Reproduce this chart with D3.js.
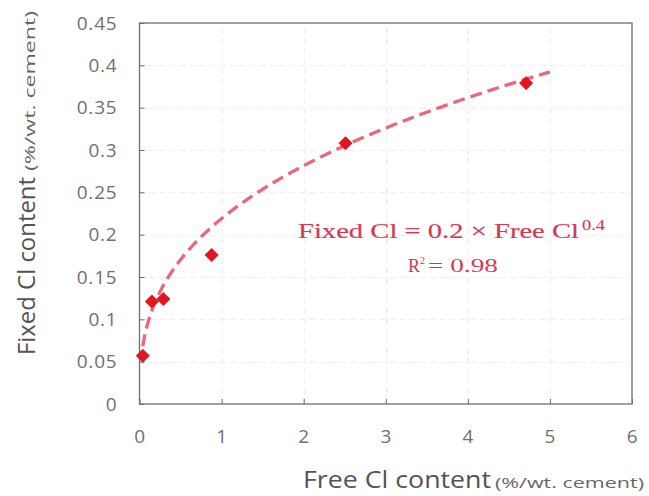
<!DOCTYPE html>
<html>
<head>
<meta charset="utf-8">
<script src="https://cdn.jsdelivr.net/npm/d3@7"></script>
<style>
  html, body { margin: 0; padding: 0; background: #fff; }
  svg { display: block; }
</style>
</head>
<body>
<svg id="chart" width="649" height="496"></svg>
<script>
// Measured chloride binding: free vs fixed chloride (% by weight of cement)
const freeCl  = [0.04, 0.15, 0.29, 0.88, 2.51, 4.71];
const fixedCl = [0.057, 0.121, 0.124, 0.176, 0.308, 0.379];

// Power-law trendline: fixed = coef * free ^ exponent
const trendCoef = [0.219, 0.362];
const trendRange = [0.04, 5];
const rSquared = [0.98];

// Axis ticks
const xTicks = [0, 1, 2, 3, 4, 5, 6];
const yTicks = [0, 0.05, 0.1, 0.15, 0.2, 0.25, 0.3, 0.35, 0.4, 0.45];

const svg = d3.select("#chart");
const margin = { left: 139.5, right: 17, top: 23, bottom: 92 };
const W = 649, H = 496;

const x = d3.scaleLinear().domain([0, 6]).range([margin.left, W - margin.right]);
const y = d3.scaleLinear().domain([0, 0.45]).range([H - margin.bottom, margin.top]);

const tickColor = "#6a6a6a";
const labelFont = "'Open Sans', 'Noto Sans', sans-serif";

// faint gridlines
const grid = svg.append("g").attr("stroke", "#efefef").attr("stroke-width", 1)
  .attr("stroke-dasharray", "6,4");
grid.selectAll("line.h").data(yTicks.slice(1, -1)).join("line")
  .attr("x1", x(0)).attr("x2", x(6))
  .attr("y1", d => Math.round(y(d)) + 0.5).attr("y2", d => Math.round(y(d)) + 0.5);
grid.selectAll("line.v").data(xTicks.slice(1, -1)).join("line")
  .attr("y1", y(0)).attr("y2", y(0.45))
  .attr("x1", d => Math.round(x(d)) + 0.5).attr("x2", d => Math.round(x(d)) + 0.5);

// axes with inward ticks
const xAxis = d3.axisBottom(x).tickValues(xTicks).tickSize(-5).tickPadding(26)
  .tickFormat(d3.format("d"));
const yAxis = d3.axisLeft(y).tickValues(yTicks).tickSize(-5).tickPadding(22)
  .tickFormat(d => d === 0 ? "0" : String(+d.toFixed(2)));

const gx = svg.append("g").attr("transform", `translate(0,${y(0)})`).call(xAxis);
const gy = svg.append("g").attr("transform", `translate(${x(0)},0)`).call(yAxis);
[gx, gy].forEach(g => {
  g.select(".domain").remove();
  g.selectAll(".tick line").attr("stroke", tickColor).attr("stroke-width", 1);
  g.selectAll(".tick text")
    .attr("fill", "#707070")
    .style("font-family", labelFont)
    .style("font-size", "19px")
    .style("letter-spacing", "0.8px");
});

// plot frame
svg.append("rect")
  .attr("x", x(0)).attr("y", y(0.45))
  .attr("width", x(6) - x(0)).attr("height", y(0) - y(0.45))
  .attr("fill", "none").attr("stroke", "#6f6f6f").attr("stroke-width", 1.3);

// trendline
const trendX = d3.range(trendRange[0], trendRange[1] + 1e-9, 0.02);
const line = d3.line().x(d => x(d)).y(d => y(trendCoef[0] * Math.pow(d, trendCoef[1])));
svg.append("path")
  .datum(trendX)
  .attr("d", line)
  .attr("fill", "none")
  .attr("stroke", "#ea6878")
  .attr("stroke-width", 3.3)
  .attr("stroke-dasharray", "12,6");

// data markers (diamonds)
const diamond = d3.symbol().type(d3.symbolDiamond2).size(110);
svg.append("g").selectAll("path")
  .data(freeCl.map((f, i) => [f, fixedCl[i]]))
  .join("path")
  .attr("d", diamond)
  .attr("transform", d => `translate(${x(d[0])},${y(d[1])})`)
  .attr("fill", "#e5141e")
  .attr("stroke", "#d0101a")
  .attr("stroke-width", 0.8);

// trendline equation
const fmt1 = d3.format(".1f");
const eqColor = "#d63a52";
const eqFont = "'Liberation Serif', 'DejaVu Serif', serif";
const eqText = (sel, sw) => sel.attr("fill", eqColor).attr("stroke", eqColor)
  .attr("stroke-width", sw).style("font-family", eqFont);

eqText(svg.append("text"), 0.2)
  .attr("x", 298).attr("y", 238)
  .attr("textLength", 281).attr("lengthAdjust", "spacingAndGlyphs")
  .style("font-size", "22px")
  .text(`Fixed Cl = ${fmt1(trendCoef[0])} × Free Cl`);
eqText(svg.append("text"), 0.1)
  .attr("x", 582).attr("y", 230)
  .attr("textLength", 23).attr("lengthAdjust", "spacingAndGlyphs")
  .style("font-size", "14px")
  .text(fmt1(trendCoef[1]));

eqText(svg.append("text"), 0)
  .attr("x", 408).attr("y", 272)
  .attr("textLength", 12).attr("lengthAdjust", "spacingAndGlyphs")
  .style("font-size", "18px")
  .text("R");
eqText(svg.append("text"), 0)
  .attr("x", 420).attr("y", 264)
  .style("font-size", "10px")
  .text("2");
eqText(svg.append("text"), 0)
  .attr("x", 428).attr("y", 272)
  .attr("textLength", 70).attr("lengthAdjust", "spacingAndGlyphs")
  .style("font-size", "18px")
  .text(`= ${d3.format(".2f")(rSquared[0])}`);

// axis titles
const titleColor = "#545454";
svg.append("text")
  .attr("x", 303).attr("y", 488)
  .attr("textLength", 188).attr("lengthAdjust", "spacingAndGlyphs")
  .attr("fill", titleColor)
  .style("font-family", labelFont).style("font-size", "24px")
  .text("Free Cl content");
svg.append("text")
  .attr("x", 495).attr("y", 488)
  .attr("textLength", 149).attr("lengthAdjust", "spacingAndGlyphs")
  .attr("fill", "#666")
  .style("font-family", labelFont).style("font-size", "15px")
  .text("(%/wt. cement)");

const yt = svg.append("g").attr("transform", "translate(35,355) rotate(-90)");
yt.append("text")
  .attr("x", 0).attr("y", 0)
  .attr("textLength", 178).attr("lengthAdjust", "spacingAndGlyphs")
  .attr("fill", titleColor)
  .style("font-family", labelFont).style("font-size", "24px")
  .text("Fixed Cl content");
yt.append("text")
  .attr("x", 184).attr("y", 0)
  .attr("textLength", 160).attr("lengthAdjust", "spacingAndGlyphs")
  .attr("fill", "#666")
  .style("font-family", labelFont).style("font-size", "15px")
  .text("(%/wt. cement)");
</script>
</body>
</html>
